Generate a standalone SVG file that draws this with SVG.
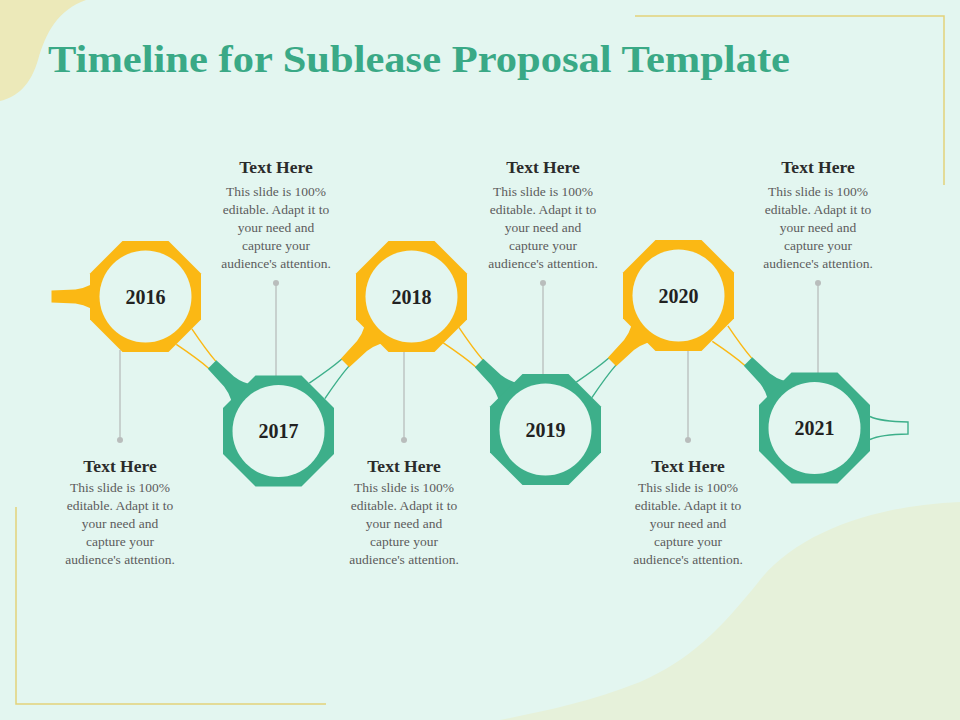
<svg xmlns="http://www.w3.org/2000/svg" width="960" height="720" viewBox="0 0 960 720">
<style>
.title{font-family:"Liberation Serif",serif;font-weight:bold;font-size:38px;fill:#3aa986}
.yr{font-family:"Liberation Serif",serif;font-weight:bold;font-size:20px;fill:#222;text-anchor:middle}
.hd{font-family:"Liberation Serif",serif;font-weight:bold;font-size:17.5px;fill:#2b2b2b;text-anchor:middle}
.bd{font-family:"Liberation Serif",serif;font-size:13.5px;fill:#5c5c5c;text-anchor:middle}
.stem{stroke:#b9bdbc;stroke-width:1.3;fill:none}
.dot{fill:#b9bdbc}
.frame{stroke:#e3d27a;stroke-width:1.5;fill:none}
.yl{fill:#fbb814}
.gr{fill:#3daf8a}
.hole{fill:#e3f6f0}
.ylin{stroke:#fbb814;stroke-width:1.4;fill:none}
.glin{stroke:#3daf8a;stroke-width:1.4;fill:none}
</style>
<defs>
<path id="oct" d="M-23,-55.5 L23,-55.5 L55.5,-23 L55.5,23 L23,55.5 L-23,55.5 L-55.5,23 L-55.5,-23 Z"/>
<path id="handle" d="M42,-22 Q54,-9 70,-7 L94,-6 L94,6 L70,7 Q54,9 42,22 Z"/>
<path id="bridge" d="M133.5,-11 Q108,-6 93.5,-5 M133.5,11 Q108,6 93.5,5"/>
</defs>
<rect width="960" height="720" fill="#e3f6f0"/>
<path d="M0,0 L86,0 C58,10 46,32 38,60 C31,84 18,97 0,101 Z" fill="#ece9b9"/>
<path d="M960,502 C880,505 800,530 760,580 C720,630 690,660 640,682 C590,702 540,712 500,720 L960,720 Z" fill="#e6f1da"/>
<path class="frame" d="M635,16 L944,16 L944,185"/>
<path class="frame" d="M16,507 L16,704 L326,704"/>
<text class="title" x="48" y="72" textLength="742" lengthAdjust="spacingAndGlyphs">Timeline for Sublease Proposal Template</text>

<g id="connectors">
<use href="#bridge" class="ylin" transform="translate(278.5,431) rotate(-135)"/>
<use href="#bridge" class="glin" transform="translate(411.5,296.5) rotate(135)"/>
<use href="#bridge" class="ylin" transform="translate(545.5,429.5) rotate(-135)"/>
<use href="#bridge" class="glin" transform="translate(678.5,295.5) rotate(135)"/>
<use href="#bridge" class="ylin" transform="translate(814.5,428) rotate(-135)"/>
<path class="glin" d="M870,416.5 Q880.5,421.5 908,422 L908,434 Q880.5,434.5 870,439.5"/>
<line class="stem" x1="120" y1="350" x2="120" y2="440"/><circle class="dot" cx="120" cy="440" r="3"/>
<line class="stem" x1="276" y1="283" x2="276" y2="378"/><circle class="dot" cx="276" cy="283" r="3"/>
<line class="stem" x1="404" y1="350" x2="404" y2="440"/><circle class="dot" cx="404" cy="440" r="3"/>
<line class="stem" x1="543" y1="283" x2="543" y2="376"/><circle class="dot" cx="543" cy="283" r="3"/>
<line class="stem" x1="688" y1="349" x2="688" y2="440"/><circle class="dot" cx="688" cy="440" r="3"/>
<line class="stem" x1="818" y1="283" x2="818" y2="375"/><circle class="dot" cx="818" cy="283" r="3"/>
</g>

<g id="node2016" transform="translate(145.5,296.5)">
<use href="#handle" class="yl" transform="rotate(180)"/>
<use href="#oct" class="yl"/>
<circle class="hole" r="46"/>
<text class="yr" y="7">2016</text>
</g>
<g id="node2017" transform="translate(278.5,431)">
<use href="#handle" class="gr" transform="rotate(-135)"/>
<use href="#oct" class="gr"/>
<circle class="hole" r="46"/>
<text class="yr" y="7">2017</text>
</g>
<g id="node2018" transform="translate(411.5,296.5)">
<use href="#handle" class="yl" transform="rotate(135)"/>
<use href="#oct" class="yl"/>
<circle class="hole" r="46"/>
<text class="yr" y="7">2018</text>
</g>
<g id="node2019" transform="translate(545.5,429.5)">
<use href="#handle" class="gr" transform="rotate(-135)"/>
<use href="#oct" class="gr"/>
<circle class="hole" r="46"/>
<text class="yr" y="7">2019</text>
</g>
<g id="node2020" transform="translate(678.5,295.5)">
<use href="#handle" class="yl" transform="rotate(135)"/>
<use href="#oct" class="yl"/>
<circle class="hole" r="46"/>
<text class="yr" y="7">2020</text>
</g>
<g id="node2021" transform="translate(814.5,428)">
<use href="#handle" class="gr" transform="rotate(-135)"/>
<use href="#oct" class="gr"/>
<circle class="hole" r="46"/>
<text class="yr" y="7">2021</text>
</g>

<g id="text2016">
<text class="hd" x="120" y="472">Text Here</text>
<text class="bd" x="120" y="491.5">This slide is 100%</text>
<text class="bd" x="120" y="509.5">editable. Adapt it to</text>
<text class="bd" x="120" y="527.5">your need and</text>
<text class="bd" x="120" y="545.5">capture your</text>
<text class="bd" x="120" y="563.5">audience's attention.</text>
</g>
<g id="text2017">
<text class="hd" x="276" y="173">Text Here</text>
<text class="bd" x="276" y="195.5">This slide is 100%</text>
<text class="bd" x="276" y="213.5">editable. Adapt it to</text>
<text class="bd" x="276" y="231.5">your need and</text>
<text class="bd" x="276" y="249.5">capture your</text>
<text class="bd" x="276" y="267.5">audience's attention.</text>
</g>
<g id="text2018">
<text class="hd" x="404" y="472">Text Here</text>
<text class="bd" x="404" y="491.5">This slide is 100%</text>
<text class="bd" x="404" y="509.5">editable. Adapt it to</text>
<text class="bd" x="404" y="527.5">your need and</text>
<text class="bd" x="404" y="545.5">capture your</text>
<text class="bd" x="404" y="563.5">audience's attention.</text>
</g>
<g id="text2019">
<text class="hd" x="543" y="173">Text Here</text>
<text class="bd" x="543" y="195.5">This slide is 100%</text>
<text class="bd" x="543" y="213.5">editable. Adapt it to</text>
<text class="bd" x="543" y="231.5">your need and</text>
<text class="bd" x="543" y="249.5">capture your</text>
<text class="bd" x="543" y="267.5">audience's attention.</text>
</g>
<g id="text2020">
<text class="hd" x="688" y="472">Text Here</text>
<text class="bd" x="688" y="491.5">This slide is 100%</text>
<text class="bd" x="688" y="509.5">editable. Adapt it to</text>
<text class="bd" x="688" y="527.5">your need and</text>
<text class="bd" x="688" y="545.5">capture your</text>
<text class="bd" x="688" y="563.5">audience's attention.</text>
</g>
<g id="text2021">
<text class="hd" x="818" y="173">Text Here</text>
<text class="bd" x="818" y="195.5">This slide is 100%</text>
<text class="bd" x="818" y="213.5">editable. Adapt it to</text>
<text class="bd" x="818" y="231.5">your need and</text>
<text class="bd" x="818" y="249.5">capture your</text>
<text class="bd" x="818" y="267.5">audience's attention.</text>
</g>
</svg>
